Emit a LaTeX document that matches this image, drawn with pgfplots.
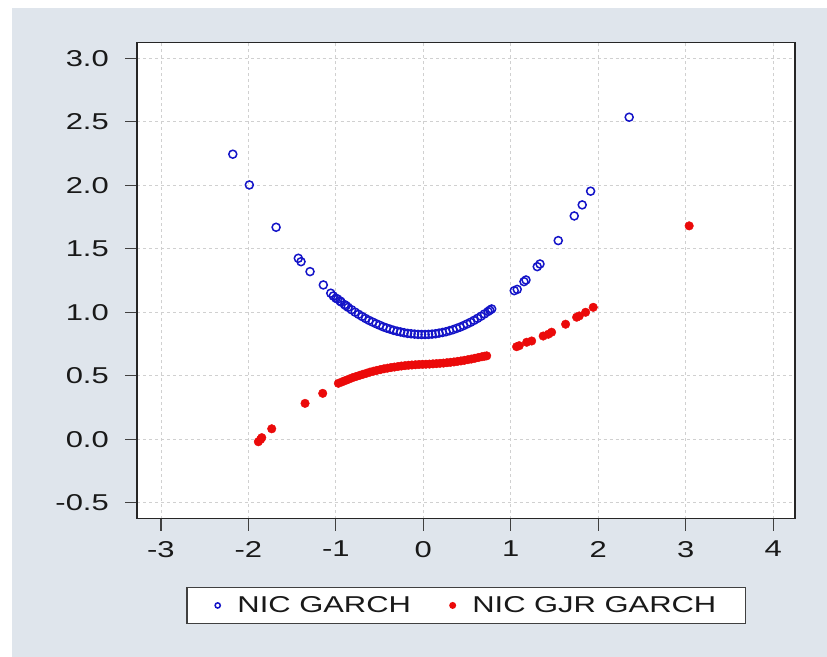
\documentclass[border=0pt]{standalone}
\usepackage{fontspec}
\setmainfont[FakeStretch=1.35]{Liberation Sans}
\usepackage{pgfplots}
\pgfplotsset{compat=1.18}
\definecolor{panelbg}{RGB}{223,229,236}
\definecolor{gridgray}{RGB}{208,208,208}
\definecolor{nicblue}{RGB}{20,20,200}
\definecolor{nicred}{RGB}{235,10,10}

\begin{document}
\begin{tikzpicture}
% page background (EViews style)
\fill[white] (-137.3bp,-138.5bp) rectangle (689.7bp,518.5bp);
\fill[panelbg] (-125bp,-138.5bp) rectangle (689.7bp,510.5bp);
\begin{axis}[
    at={(0,0)}, anchor=south west,
    scale only axis, width=657.7bp, height=476bp,
    xmin=-3.27, xmax=4.25, ymin=-0.623, ymax=3.123,
    axis background/.style={fill=white},
    axis line style={line width=1.8bp, black!85},
    xtick={-3,-2,-1,0,1,2,3,4},
    xticklabels={-3,-2,-1,0,1,2,3,4},
    ytick={-0.5,0,0.5,1,1.5,2,2.5,3},
    yticklabels={-0.5,0.0,0.5,1.0,1.5,2.0,2.5,3.0},
    tick align=outside, tick pos=left, major tick length=12bp,
    tick style={line width=1.2bp, black!75},
    grid=major, grid style={gridgray, dashed, line width=0.8bp},
    every tick label/.append style={font=\fontsize{23}{23}\selectfont, text=black!90},
    yticklabel style={xshift=-13bp},
    xticklabel style={yshift=-7bp},
    legend columns=2,
    legend style={at={(0.5,-0.144)}, anchor=north, draw=black!75, line width=1.3bp,
        fill=white, inner xsep=27bp, inner ysep=7bp,
        font=\fontsize{23}{23}\selectfont, text=black!90,
        /tikz/every odd column/.append style={column sep=14bp},
        /tikz/every even column/.append style={column sep=36bp},
        nodes={inner sep=2bp}},
    legend image code/.code={
        \path (0bp,0bp) (6bp,0bp);
        \draw[#1, mark options={scale=0.65}] plot coordinates {(3bp,0bp)};},
]

% NIC GARCH
\addplot[only marks, mark=o, color=nicblue, mark size=4bp, line width=1.5bp] coordinates {
    (-2.178,2.244) (-1.989,2.002) (-1.683,1.669) (-1.429,1.425) (-1.398,1.398)
    (-1.295,1.320) (-1.143,1.215) (-1.058,1.150) (-1.029,1.128) (-0.998,1.110)
    (-0.98,1.104) (-0.952,1.089) (-0.94,1.081) (-0.90,1.060) (-0.883,1.052)
    (-0.86,1.039) (-0.82,1.020) (-0.78,1.001) (-0.74,0.984) (-0.70,0.967)
    (-0.66,0.951) (-0.62,0.936) (-0.58,0.923) (-0.54,0.910) (-0.50,0.898)
    (-0.46,0.886) (-0.42,0.876) (-0.38,0.867) (-0.34,0.858) (-0.30,0.851)
    (-0.26,0.845) (-0.22,0.839) (-0.18,0.834) (-0.14,0.831) (-0.10,0.828)
    (-0.06,0.826) (-0.02,0.825) (0.02,0.825) (0.06,0.826) (0.10,0.828)
    (0.14,0.831) (0.18,0.836) (0.22,0.841) (0.26,0.847) (0.30,0.855)
    (0.34,0.863) (0.38,0.873) (0.42,0.883) (0.46,0.895) (0.50,0.908)
    (0.54,0.921) (0.58,0.936) (0.62,0.952) (0.66,0.969) (0.70,0.987)
    (0.74,1.006) (0.76,1.016) (0.782,1.026)
    (1.040,1.170) (1.074,1.180) (1.151,1.241) (1.174,1.254) (1.303,1.359)
    (1.334,1.380) (1.543,1.564) (1.726,1.758) (1.817,1.845) (1.913,1.953)
    (2.354,2.535)
};
\addlegendentry{NIC GARCH}

% NIC GJR GARCH
\addplot[only marks, mark=*, color=nicred, mark size=4.3bp] coordinates {
    (-1.886,-0.019) (-1.860,0.000) (-1.847,0.013) (-1.733,0.083) (-1.352,0.283)
    (-1.150,0.362) (-0.971,0.441) (-0.93,0.452) (-0.89,0.463) (-0.85,0.474)
    (-0.81,0.485) (-0.77,0.494) (-0.73,0.503) (-0.69,0.512) (-0.65,0.520)
    (-0.61,0.529) (-0.57,0.536) (-0.53,0.543) (-0.49,0.549) (-0.45,0.555)
    (-0.41,0.560) (-0.37,0.565) (-0.33,0.569) (-0.29,0.573) (-0.25,0.577)
    (-0.21,0.580) (-0.17,0.583) (-0.13,0.585) (-0.09,0.587) (-0.05,0.589)
    (-0.01,0.590) (0.03,0.591) (0.07,0.592) (0.11,0.594) (0.15,0.596)
    (0.19,0.598) (0.23,0.600) (0.27,0.603) (0.31,0.606) (0.35,0.609)
    (0.39,0.613) (0.43,0.617) (0.47,0.622) (0.51,0.627) (0.55,0.632)
    (0.59,0.638) (0.63,0.644) (0.67,0.650) (0.70,0.654) (0.725,0.657)
    (1.067,0.729) (1.097,0.737) (1.182,0.764) (1.239,0.774) (1.371,0.813)
    (1.429,0.827) (1.467,0.843) (1.627,0.906) (1.753,0.961) (1.783,0.971)
    (1.856,1.000) (1.943,1.039) (3.040,1.680)
};
\addlegendentry{NIC GJR GARCH}

\end{axis}
\pgfresetboundingbox
\useasboundingbox (-137.3bp,-138.5bp) rectangle (689.7bp,518.5bp);
\end{tikzpicture}
\end{document}
